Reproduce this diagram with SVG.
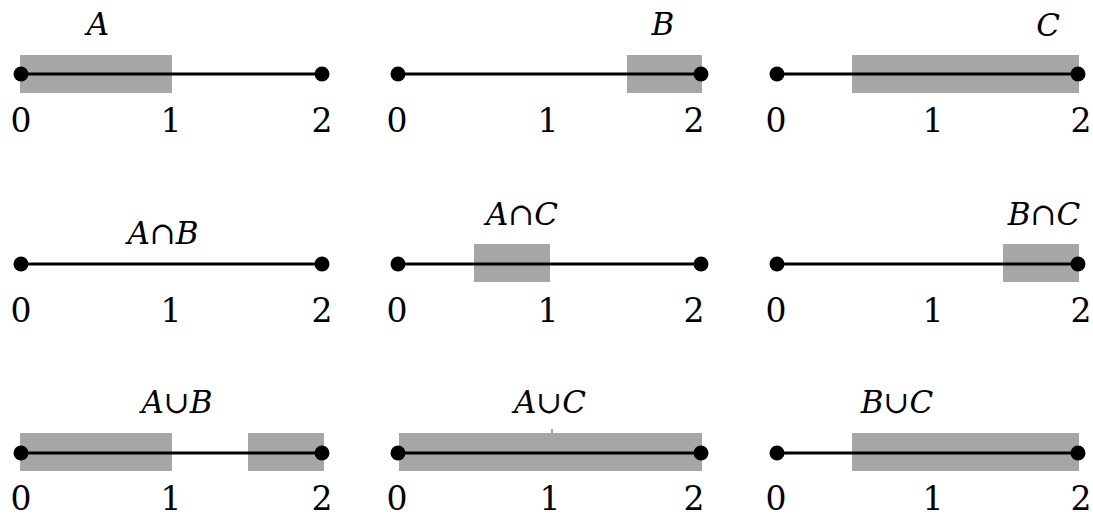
<svg xmlns="http://www.w3.org/2000/svg" width="1093" height="516" viewBox="0 0 1093 516" font-family="DejaVu Serif, serif">
<style>
.bar{fill:#a6a6a6;stroke:none}
.ax{stroke:#000;stroke-width:3;fill:none}
.dot{fill:#000}
.num{font-family:"DejaVu Serif",serif;font-size:33px;fill:#000;text-anchor:middle}
.lab{font-family:"DejaVu Serif",serif;font-size:31px;fill:#000;text-anchor:middle}
.it{font-style:italic}
</style>
<rect width="1093" height="516" fill="#fff"/>
<!-- Row 1 -->
<g id="panel-A">
<rect class="bar" x="20" y="55" width="152" height="38"/>
<line class="ax" x1="21" y1="74" x2="322" y2="74"/>
<circle class="dot" cx="21" cy="74" r="7.5"/><circle class="dot" cx="322" cy="74" r="7.5"/>
<text class="lab it" x="98" y="35">A</text>
<text class="num" x="21" y="132">0</text><text class="num" x="171" y="132">1</text><text class="num" x="322" y="132">2</text>
</g>
<g id="panel-B">
<rect class="bar" x="627" y="55" width="75" height="38"/>
<line class="ax" x1="398" y1="74" x2="701" y2="74"/>
<circle class="dot" cx="398" cy="74" r="7.5"/><circle class="dot" cx="701" cy="74" r="7.5"/>
<text class="lab it" x="663" y="35">B</text>
<text class="num" x="397" y="132">0</text><text class="num" x="548" y="132">1</text><text class="num" x="694" y="132">2</text>
</g>
<g id="panel-C">
<rect class="bar" x="852" y="55" width="227" height="38"/>
<line class="ax" x1="777" y1="74" x2="1078" y2="74"/>
<circle class="dot" cx="777" cy="74" r="7.5"/><circle class="dot" cx="1078" cy="74" r="7.5"/>
<text class="lab it" x="1048" y="36">C</text>
<text class="num" x="776" y="132">0</text><text class="num" x="933" y="132">1</text><text class="num" x="1081" y="132">2</text>
</g>
<!-- Row 2 -->
<g id="panel-AintB">
<line class="ax" x1="21" y1="264" x2="322" y2="264"/>
<circle class="dot" cx="21" cy="264" r="7.5"/><circle class="dot" cx="322" cy="264" r="7.5"/>
<text class="lab" x="163" y="244"><tspan class="it">A</tspan>∩<tspan class="it">B</tspan></text>
<text class="num" x="21" y="322">0</text><text class="num" x="171" y="322">1</text><text class="num" x="322" y="322">2</text>
</g>
<g id="panel-AintC">
<rect class="bar" x="474" y="244" width="76" height="38"/>
<line class="ax" x1="398" y1="264" x2="701" y2="264"/>
<circle class="dot" cx="398" cy="264" r="7.5"/><circle class="dot" cx="701" cy="264" r="7.5"/>
<text class="lab" x="522" y="225"><tspan class="it">A</tspan>∩<tspan class="it">C</tspan></text>
<text class="num" x="397" y="322">0</text><text class="num" x="548" y="322">1</text><text class="num" x="694" y="322">2</text>
</g>
<g id="panel-BintC">
<rect class="bar" x="1003" y="244" width="76" height="38"/>
<line class="ax" x1="777" y1="264" x2="1078" y2="264"/>
<circle class="dot" cx="777" cy="264" r="7.5"/><circle class="dot" cx="1078" cy="264" r="7.5"/>
<text class="lab" x="1044" y="225"><tspan class="it">B</tspan>∩<tspan class="it">C</tspan></text>
<text class="num" x="776" y="322">0</text><text class="num" x="933" y="322">1</text><text class="num" x="1081" y="322">2</text>
</g>
<!-- Row 3 -->
<g id="panel-AuniB">
<rect class="bar" x="20" y="433" width="152" height="38"/>
<rect class="bar" x="248" y="433" width="76" height="38"/>
<line class="ax" x1="21" y1="453" x2="322" y2="453"/>
<circle class="dot" cx="21" cy="453" r="7.5"/><circle class="dot" cx="322" cy="453" r="7.5"/>
<text class="lab" x="177" y="413"><tspan class="it">A</tspan>∪<tspan class="it">B</tspan></text>
<text class="num" x="21" y="510">0</text><text class="num" x="171" y="510">1</text><text class="num" x="322" y="510">2</text>
</g>
<g id="panel-AuniC">
<rect class="bar" x="399" y="433" width="303" height="38"/>
<line x1="552" y1="429" x2="552" y2="433" stroke="#555" stroke-width="1"/>
<line class="ax" x1="398" y1="453" x2="701" y2="453"/>
<circle class="dot" cx="398" cy="453" r="7.5"/><circle class="dot" cx="701" cy="453" r="7.5"/>
<text class="lab" x="550" y="413"><tspan class="it">A</tspan>∪<tspan class="it">C</tspan></text>
<text class="num" x="397" y="510">0</text><text class="num" x="550" y="510">1</text><text class="num" x="694" y="510">2</text>
</g>
<g id="panel-BuniC">
<rect class="bar" x="852" y="433" width="227" height="38"/>
<line class="ax" x1="777" y1="453" x2="1078" y2="453"/>
<circle class="dot" cx="777" cy="453" r="7.5"/><circle class="dot" cx="1078" cy="453" r="7.5"/>
<text class="lab" x="897" y="413"><tspan class="it">B</tspan>∪<tspan class="it">C</tspan></text>
<text class="num" x="776" y="510">0</text><text class="num" x="933" y="510">1</text><text class="num" x="1081" y="510">2</text>
</g>
</svg>
